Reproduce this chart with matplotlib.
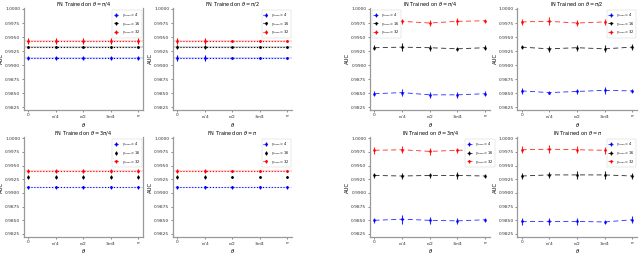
import numpy as np
import matplotlib
matplotlib.use("Agg")
import matplotlib.pyplot as plt

theta = [0, np.pi / 4, np.pi / 2, 3 * np.pi / 4, np.pi]
xtick_labels = ["0", r"$\pi/4$", r"$\pi/2$", r"$3\pi/4$", r"$\pi$"]
series_labels = [r"$\gamma_{train}=4$", r"$\gamma_{train}=16$", r"$\gamma_{train}=32$"]
series_colors = ["blue", "black", "red"]

# FN models (left block)
fn_titles = [r"FN Trained on $\theta=\pi/4$", r"FN Trained on $\theta=\pi/2$",
             r"FN Trained on $\theta=3\pi/4$", r"FN Trained on $\theta=\pi$"]
fn_vals = [
    [[0.9913] * 5, [0.9932] * 5, [0.9943] * 5],
    [[0.9913] * 5, [0.9932] * 5, [0.9943] * 5],
    [[0.9910] * 5, [0.9929] * 5, [0.9940] * 5],
    [[0.9910] * 5, [0.9929] * 5, [0.9940] * 5],
]
fn_errs = [
    [[0.0004] * 5, [0.0002] * 5, [0.0005] * 5],
    [[0.0005, 0.0005, 0.0002, 0.0002, 0.0002], [0.0003, 0.0003, 0.0001, 0.0001, 0.0001],
     [0.0005, 0.0005, 0.0002, 0.0002, 0.0002]],
    [[0.0003] * 5, [0.0004] * 5, [0.0004] * 5],
    [[0.0003, 0.0003, 0.0002, 0.0002, 0.0002], [0.0004, 0.0004, 0.0002, 0.0002, 0.0002],
     [0.0004, 0.0004, 0.0002, 0.0002, 0.0002]],
]

# IN models (right block)
in_titles = [r"IN Trained on $\theta=\pi/4$", r"IN Trained on $\theta=\pi/2$",
             r"IN Trained on $\theta=3\pi/4$", r"IN Trained on $\theta=\pi$"]
in_vals = [
    [[0.9849, 0.9851, 0.9847, 0.9847, 0.9849],
     [0.9931, 0.9932, 0.9931, 0.9929, 0.9931],
     [0.9975, 0.9978, 0.9975, 0.9978, 0.9979]],
    [[0.9854, 0.9851, 0.9853, 0.9855, 0.9854],
     [0.9932, 0.9929, 0.9931, 0.9929, 0.9932],
     [0.9977, 0.9978, 0.9975, 0.9977, 0.9974]],
    [[0.9850, 0.9852, 0.9850, 0.9849, 0.9851],
     [0.9932, 0.9931, 0.9932, 0.9932, 0.9931],
     [0.9978, 0.9979, 0.9976, 0.9978, 0.9979]],
    [[0.9848, 0.9848, 0.9848, 0.9847, 0.9851],
     [0.9931, 0.9933, 0.9933, 0.9933, 0.9931],
     [0.9979, 0.9980, 0.9979, 0.9978, 0.9979]],
]
in_errs = [
    [[0.0004, 0.0006, 0.0005, 0.0005, 0.0004], [0.0004, 0.0007, 0.0005, 0.0004, 0.0004],
     [0.0006, 0.0005, 0.0005, 0.0006, 0.0004]],
    [[0.0006, 0.0003, 0.0004, 0.0006, 0.0004], [0.0004, 0.0005, 0.0005, 0.0006, 0.0005],
     [0.0006, 0.0007, 0.0006, 0.0006, 0.0006]],
    [[0.0004, 0.0008, 0.0006, 0.0005, 0.0004], [0.0004, 0.0005, 0.0005, 0.0006, 0.0004],
     [0.0006, 0.0006, 0.0006, 0.0005, 0.0005]],
    [[0.0006, 0.0006, 0.0006, 0.0004, 0.0006], [0.0006, 0.0006, 0.0007, 0.0007, 0.0005],
     [0.0006, 0.0007, 0.0006, 0.0006, 0.0006]],
]

yticks = [0.9825, 0.9850, 0.9875, 0.9900, 0.9925, 0.9950, 0.9975, 1.0000]

fig = plt.figure(figsize=(6.4, 2.54), dpi=100)

left_pos = [[0.037, 0.567, 0.187, 0.402], [0.270, 0.567, 0.187, 0.402],
            [0.037, 0.068, 0.187, 0.392], [0.270, 0.068, 0.187, 0.392]]
right_pos = [[0.578, 0.567, 0.188, 0.402], [0.808, 0.567, 0.188, 0.402],
             [0.578, 0.068, 0.188, 0.392], [0.808, 0.068, 0.188, 0.392]]


def style_axis(ax, title):
    ax.set_xlim(-0.13, np.pi + 0.15)
    ax.set_ylim(0.9820, 1.0002)
    ax.set_xticks(theta)
    ax.set_xticklabels(xtick_labels, fontsize=3.2)
    ax.set_yticks(yticks)
    ax.set_yticklabels(["%.4f" % v for v in yticks], fontsize=3.2)
    ax.tick_params(length=1.5, width=0.4, pad=1.0, colors="#333333")
    ax.set_xlabel(r"$\theta$", fontsize=3.8, labelpad=0.2)
    ax.set_ylabel("AUC", fontsize=3.8, labelpad=0.6)
    ax.set_title(title, fontsize=3.6, pad=1.2)
    ax.spines["top"].set_visible(False)
    ax.spines["right"].set_visible(False)
    for s in ("left", "bottom"):
        ax.spines[s].set_color("#999999")
        ax.spines[s].set_linewidth(0.9)


def small_legend(ax, **kw):
    leg = ax.legend(fontsize=2.5, handlelength=1.5, borderpad=0.4, labelspacing=0.2,
                    framealpha=1, edgecolor="#cccccc", **kw)
    leg.get_frame().set_linewidth(0.3)


for i in range(4):
    ax = fig.add_axes(left_pos[i])
    for k in range(3):
        y = np.array(fn_vals[i][k])
        e = np.array(fn_errs[i][k])
        ls = ":" if not (i >= 2 and k == 1) else "none"
        ax.errorbar(theta, y, yerr=e, color=series_colors[k], linestyle=ls,
                    linewidth=0.8, marker=".", markersize=2, elinewidth=0.8,
                    label=series_labels[k])
        if ls != "none":
            ax.fill_between([-0.13, np.pi + 0.15], y[0] - 0.00015, y[0] + 0.00015,
                            color=series_colors[k], alpha=0.15, linewidth=0)
    style_axis(ax, fn_titles[i])
    if i in (0, 2):
        ax.spines["right"].set_visible(True)
        ax.spines["right"].set_color("#999999")
        ax.spines["right"].set_linewidth(0.9)
    small_legend(ax, loc="upper right")

for i in range(4):
    ax = fig.add_axes(right_pos[i])
    for k in range(3):
        ax.errorbar(theta, in_vals[i][k], yerr=in_errs[i][k], color=series_colors[k],
                    linestyle=(0, (6, 4)), linewidth=0.6, alpha=0.85, marker=".",
                    markersize=2, elinewidth=0.8, label=series_labels[k])
    style_axis(ax, in_titles[i])
    if i == 0:
        small_legend(ax, loc="upper left")
    elif i == 2:
        small_legend(ax, loc="upper right", bbox_to_anchor=(1.05, 1.0))
    else:
        small_legend(ax, loc="upper right")

fig.savefig("out.png", dpi=100)
